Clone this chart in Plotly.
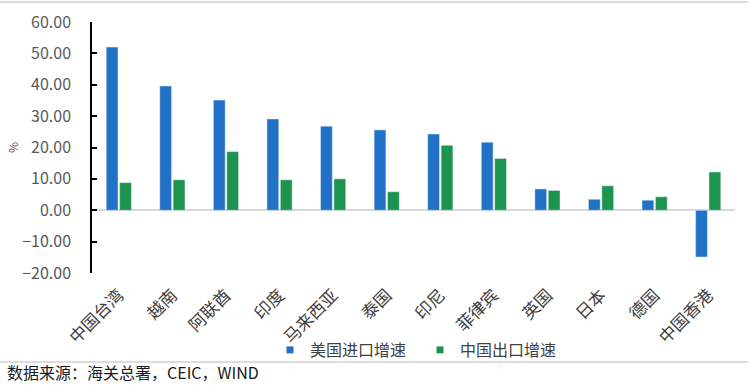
import plotly.graph_objects as go

categories = ["中国台湾", "越南", "阿联酋", "印度", "马来西亚", "泰国", "印尼", "菲律宾", "英国", "日本", "德国", "中国香港"]
us_import = [52.0, 39.6, 35.1, 29.1, 26.8, 25.6, 24.3, 21.7, 6.8, 3.5, 3.2, -14.9]
cn_export = [8.8, 9.7, 18.7, 9.7, 10.0, 5.9, 20.7, 16.5, 6.3, 7.8, 4.3, 12.2]
series_names = ["美国进口增速", "中国出口增速"]
y_ticks = [-20, -10, 0, 10, 20, 30, 40, 50, 60]

BLUE = "#2172c6"
GREEN = "#1d944d"
FONT = "Noto Sans CJK SC"

fig = go.Figure()
fig.add_trace(go.Bar(x=categories, y=us_import, name=series_names[0], marker_color=BLUE, showlegend=False))
fig.add_trace(go.Bar(x=categories, y=cn_export, name=series_names[1], marker_color=GREEN, showlegend=False))
# legend proxies with small square markers
fig.add_trace(go.Scatter(x=[None], y=[None], mode="markers", name=series_names[0],
                         marker=dict(symbol="square", size=7, color=BLUE)))
fig.add_trace(go.Scatter(x=[None], y=[None], mode="markers", name=series_names[1],
                         marker=dict(symbol="square", size=7, color=GREEN)))

L, R, T, B = 92, 21, 22, 117
W, H = 756, 390
pw, ph = W - L - R, H - T - B

def px_x(x):
    return (x - L) / pw

def px_y(y):
    return (H - B - y) / ph

fig.update_layout(
    width=W, height=H,
    margin=dict(l=L, r=R, t=T, b=B, autoexpand=False),
    paper_bgcolor="white", plot_bgcolor="white",
    barmode="group", bargap=0.5, bargroupgap=0.12,
    font=dict(family=FONT, color="#595959", size=13),
    showlegend=True,
    legend=dict(orientation="h", x=px_x(270), xanchor="left", y=px_y(350), yanchor="middle",
                font=dict(size=16, color="#404040", family=FONT), entrywidth=105,
                itemwidth=30, bgcolor="rgba(0,0,0,0)", tracegroupgap=0),
    xaxis=dict(showgrid=False, showline=False, zeroline=False, ticks="", tickangle=-45,
               automargin=False, ticklabelstandoff=8,
               tickfont=dict(size=17, color="#404040", family=FONT)),
    yaxis=dict(range=[-20, 60], tickvals=y_ticks, tickformat=".2f", showgrid=False,
               automargin=False,
               showline=True, linecolor="#000000", linewidth=1.5,
               ticks="inside", ticklen=5, tickcolor="#000000", tickwidth=1.5,
               zeroline=True, zerolinecolor="#d9d9d9", zerolinewidth=1.5,
               ticklabelstandoff=16,
               tickfont=dict(size=16, color="#595959", family=FONT),
               title=dict(text="%", font=dict(size=12, color="#595959"), standoff=1)),
    shapes=[
        dict(type="line", xref="paper", yref="paper", x0=px_x(0), x1=px_x(748), y0=px_y(2), y1=px_y(2),
             line=dict(color="#d0d0d0", width=1.5)),
        dict(type="line", xref="paper", yref="paper", x0=px_x(0), x1=px_x(748), y0=px_y(362), y1=px_y(362),
             line=dict(color="#d0d0d0", width=1.5)),
    ],
    annotations=[
        dict(text="数据来源：海关总署，CEIC，WIND", xref="paper", yref="paper", x=px_x(5), y=px_y(372),
             xanchor="left", yanchor="middle", showarrow=False,
             font=dict(size=16, color="#1a1a1a", family=FONT)),
    ],
)

fig.write_html("out.html", config={"displayModeBar": False},
               post_script="document.body.style.margin='0';document.body.style.padding='0';")
